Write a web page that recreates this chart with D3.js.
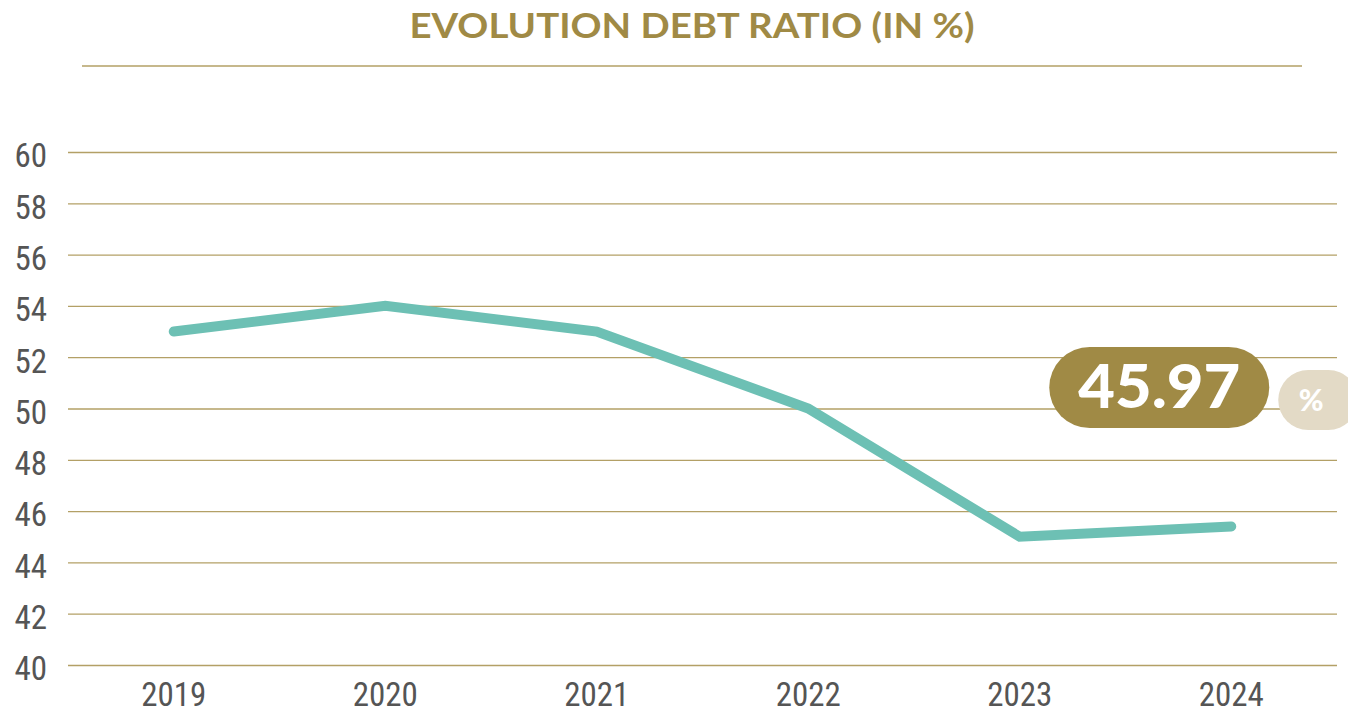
<!DOCTYPE html>
<html><head><meta charset="utf-8">
<script src="https://cdn.jsdelivr.net/npm/d3@7"></script>
<style>
html,body{margin:0;padding:0;background:#fff;}
svg{display:block;}
</style></head>
<body>
<svg id="chart" width="1348" height="725"></svg>
<script>
const years = ["2019","2020","2021","2022","2023","2024"];
const debtRatio = [53.0, 54.0, 53.0, 50.0, 45.0, 45.4];
const yTicks = [40,42,44,46,48,50,52,54,56,58,60];
const titleText = "EVOLUTION DEBT RATIO (IN %)";
const badgeValue = "45.97";
const badgeUnit = "%";

const gold = "#a08a45";
const gridCol = "#b3a066";
const teal = "#6dc0b4";
const axisFont = "'Liberation Sans Narrow','Roboto Condensed','Roboto',sans-serif";

const svg = d3.select("#chart");
const x = d3.scaleBand().domain(years).range([68, 1337]);
const y = d3.scaleLinear().domain([40, 60]).range([665, 152]);

// title
svg.append("text").attr("x", 692).attr("y", 38).attr("text-anchor","middle")
  .attr("font-family","'Lato','Noto Sans',sans-serif").attr("font-weight",700)
  .attr("font-size",34).attr("fill",gold).attr("textLength",565)
  .attr("lengthAdjust","spacingAndGlyphs").text(titleText);
svg.append("line").attr("x1",82).attr("x2",1302).attr("y1",66).attr("y2",66)
  .attr("stroke",gridCol).attr("stroke-width",1.6);

// grid
const yAxis = d3.axisLeft(y).tickValues(yTicks).tickSize(-(1337-68)).tickPadding(21);
const gy = svg.append("g").attr("transform","translate(68,0)").call(yAxis);
gy.select(".domain").remove();
gy.selectAll(".tick line").attr("stroke",gridCol).attr("stroke-width",1.3);
gy.selectAll(".tick text").attr("font-family",axisFont).attr("font-size",33)
  .attr("fill","#555").attr("dy","0.45em");

const xAxis = d3.axisBottom(x).tickSize(0).tickPadding(18);
const gx = svg.append("g").attr("transform","translate(0,665)").call(xAxis);
gx.select(".domain").remove();
gx.selectAll(".tick text").attr("font-family",axisFont).attr("font-size",33)
  .attr("fill","#555").attr("dy","0.71em");

// line
const line = d3.line().x((d,i)=>x(years[i])+x.bandwidth()/2).y(d=>y(d));
svg.append("path").datum(debtRatio).attr("d",line).attr("fill","none")
  .attr("stroke",teal).attr("stroke-width",10).attr("stroke-linecap","round")
  .attr("stroke-linejoin","miter");

// badge
const bx = x("2024") + x.bandwidth()/2;
const bg = svg.append("g");
bg.append("rect").attr("x", bx-182).attr("y",347).attr("width",220).attr("height",81)
  .attr("rx",40.5).attr("fill",gold);
bg.append("text").attr("x", bx-72).attr("y",408).attr("text-anchor","middle")
  .attr("font-family","'Lato','Noto Sans',sans-serif").attr("font-weight",900)
  .attr("font-size",60).attr("fill","#fff").attr("textLength",162)
  .attr("lengthAdjust","spacingAndGlyphs").text(badgeValue);
bg.append("rect").attr("x", bx+47).attr("y",370).attr("width",80).attr("height",60)
  .attr("rx",30).attr("fill","#e3dac6");
bg.append("text").attr("x", bx+80).attr("y",411).attr("text-anchor","middle")
  .attr("font-family","'Lato','Noto Sans',sans-serif").attr("font-weight",900)
  .attr("font-size",30).attr("fill","#fff").text(badgeUnit);
</script>
</body></html>
